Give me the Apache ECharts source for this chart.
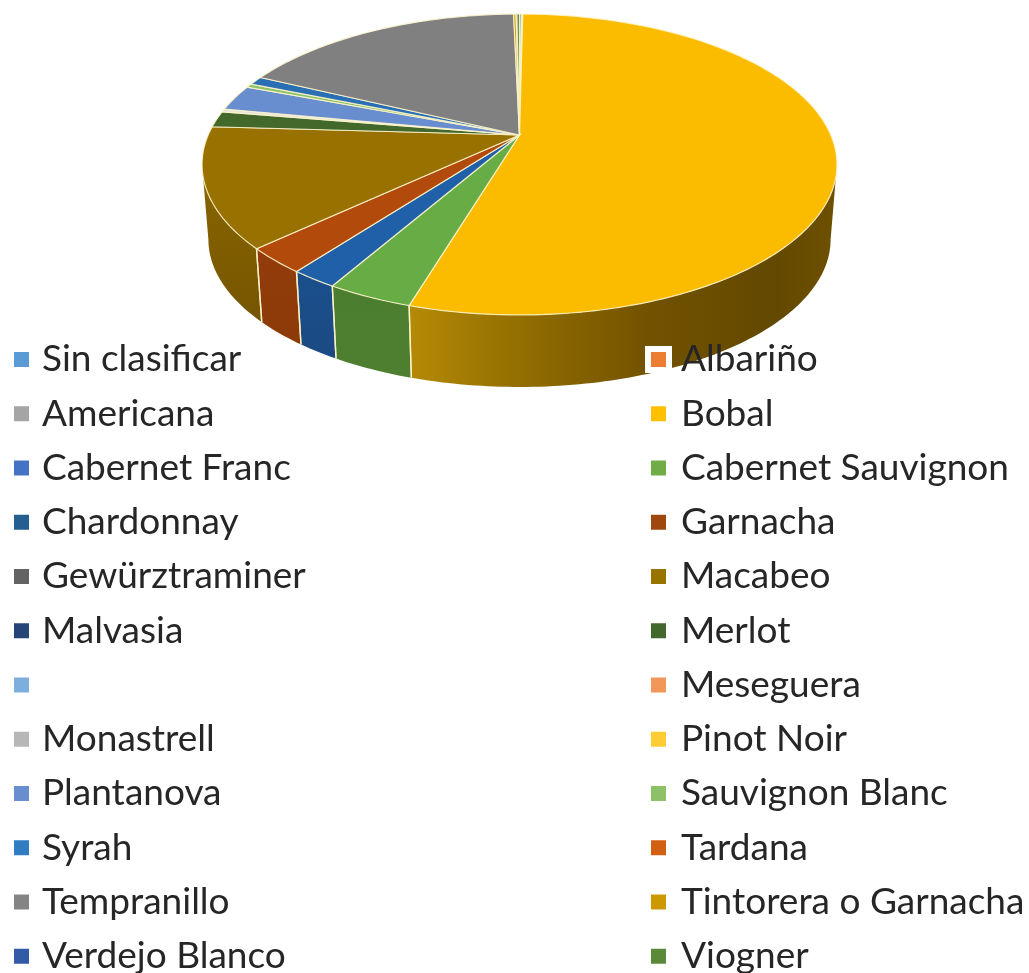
<!DOCTYPE html>
<html><head><meta charset="utf-8">
<style>html,body{margin:0;padding:0;background:#fff}#c{width:1029px;height:973px}</style>
<script src="https://cdn.jsdelivr.net/npm/echarts@6/dist/echarts.min.js"></script>
</head><body><div id="c"></div>
<script>
const categories = ['Sin clasificar','Albariño','Americana','Bobal','Cabernet Franc','Cabernet Sauvignon','Chardonnay','Garnacha','Gewürztraminer','Macabeo','Malvasia','Merlot',' ','Meseguera','Monastrell','Pinot Noir','Plantanova','Sauvignon Blanc','Syrah','Tardana','Tempranillo','Tintorera o Garnacha','Verdejo Blanco','Viogner'];
const shares = [0.12,0.02,0.06,54.45,0,3.67,2.01,2.74,0,12.85,0,1.72,0,0,0.33,0,2.78,0.42,0.92,0,17.55,0.15,0.05,0.16];
const colors = ['#5B9BD5','#ED7D31','#A5A5A5','#FFC000','#4472C4','#70AD47','#255E91','#9E480E','#636363','#997300','#264478','#43682B','#7CAFDD','#F1975A','#B7B7B7','#FFCD33','#698ED0','#8CC168','#327DC2','#D26012','#848484','#CC9A00','#335AA6','#5A8A39'];
const topColors = {3:'#FBBC00',5:'#68AC46',6:'#1F60A8',7:'#B24A0B',9:'#987100',11:'#43682B',14:'#E6E6D8',16:'#698ED0',17:'#8CC168',18:'#2A6FB4',20:'#808080',21:'#CC9A00',22:'#335AA6',23:'#5A8A39'};
const wallColors = {5:['#4A7E2E','#4F7F30'],6:['#1A4F8C','#1C4A82'],7:['#923C0A','#8C3A08'],9:['#8A6600','#755500']};
const bobalWall = [[0,'#B48A06'],[0.3,'#8E6A00'],[0.55,'#735300'],[0.85,'#634800'],[1,'#6E5000']];

const total = shares.reduce((a, b) => a + b, 0);
const cx = 519.5, cy = 135, A = 144.7, B = 311.3, k = -0.196;
const bottomScale = 0.98, bottomShift = 75.6;
const sideAngle = Math.acos(k) * 180 / Math.PI; // where the rim is widest on screen
function rim(deg) {
  const t = deg * Math.PI / 180, X = Math.sin(t), Y = -Math.cos(t), w = 1 + k * Y;
  return [B * X / w, A * Y / w];
}
const topPt = d => { const p = rim(d); return [cx + p[0], cy + p[1]]; };
const botPt = d => { const p = rim(d); return [cx + p[0] * bottomScale, cy + p[1] * bottomScale + bottomShift]; };
function arc(fn, a, b) {
  const n = Math.max(2, Math.ceil(Math.abs(b - a))), out = [];
  for (let i = 0; i <= n; i++) out.push(fn(a + (b - a) * i / n));
  return out;
}
const edge = 'rgba(255,246,205,0.85)';
function makeRender(idx) {
  return function (params, api) {
    const v = api.value(0);
    if (!v) return { type: 'group', children: [] };
    let before = 0;
    for (let i = 0; i < idx; i++) before += shares[i];
    const a = before / total * 360, b = (before + v) / total * 360;
    const children = [];
    const lo = Math.max(a, sideAngle);
    const hi = Math.min(b, 360 - sideAngle);
    if (hi > lo) {
      const wc = wallColors[idx];
      let fill = topColors[idx] || colors[idx];
      if (idx === 3) fill = new echarts.graphic.LinearGradient(409, 0, 837, 0, bobalWall.map(s => ({ offset: s[0], color: s[1] })), true);
      else if (wc) fill = new echarts.graphic.LinearGradient(0, 0, 0, 1, [{ offset: 0, color: wc[0] }, { offset: 1, color: wc[1] }]);
      children.push({
        type: 'polygon', z2: 1,
        shape: { points: arc(topPt, lo, hi).concat(arc(botPt, hi, lo)) },
        style: { fill: fill, stroke: null }
      });
      [a, b].forEach(d => {
        if (d > lo - 1e-6 && d < hi + 1e-6) children.push({
          type: 'line', z2: 2,
          shape: { x1: topPt(d)[0], y1: topPt(d)[1], x2: botPt(d)[0], y2: botPt(d)[1] },
          style: { stroke: edge, lineWidth: 1.4 }
        });
      });
    }
    children.push({
      type: 'polygon', z2: 10,
      shape: { points: [[cx, cy]].concat(arc(topPt, a, b)) },
      style: { fill: topColors[idx] || colors[idx], stroke: edge, lineWidth: 1.2 }
    });
    return { type: 'group', children: children };
  };
}
const series = categories.map((name, i) => ({
  type: 'custom', name: name, coordinateSystem: 'none', silent: true, animation: false,
  clip: false, itemStyle: { color: colors[i] }, renderItem: makeRender(i), data: [[shares[i]]], encode: { value: 0 }
}));
const legendBase = {
  orient: 'vertical', top: 341, height: 760, icon: 'rect', itemWidth: 21, itemHeight: 21, itemGap: 17.25, selectedMode: false, padding: 0,
  itemStyle: { borderColor: '#fff', borderWidth: 6 },
  textStyle: { fontFamily: 'Lato', fontSize: 37, color: '#262626', lineHeight: 36 }
};
const legendText = pad => Object.assign({}, legendBase.textStyle, { padding: [0, 0, 0, pad] });
const chart = echarts.init(document.getElementById('c'));
chart.setOption({
  backgroundColor: '#fff', animation: false,
  legend: [
    Object.assign({}, legendBase, { left: 8, textStyle: legendText(5), data: categories.filter((c, i) => i % 2 === 0) }),
    Object.assign({}, legendBase, { left: 645, textStyle: legendText(7), data: categories.filter((c, i) => i % 2 === 1) })
  ],
  series: series
});
</script></body></html>
